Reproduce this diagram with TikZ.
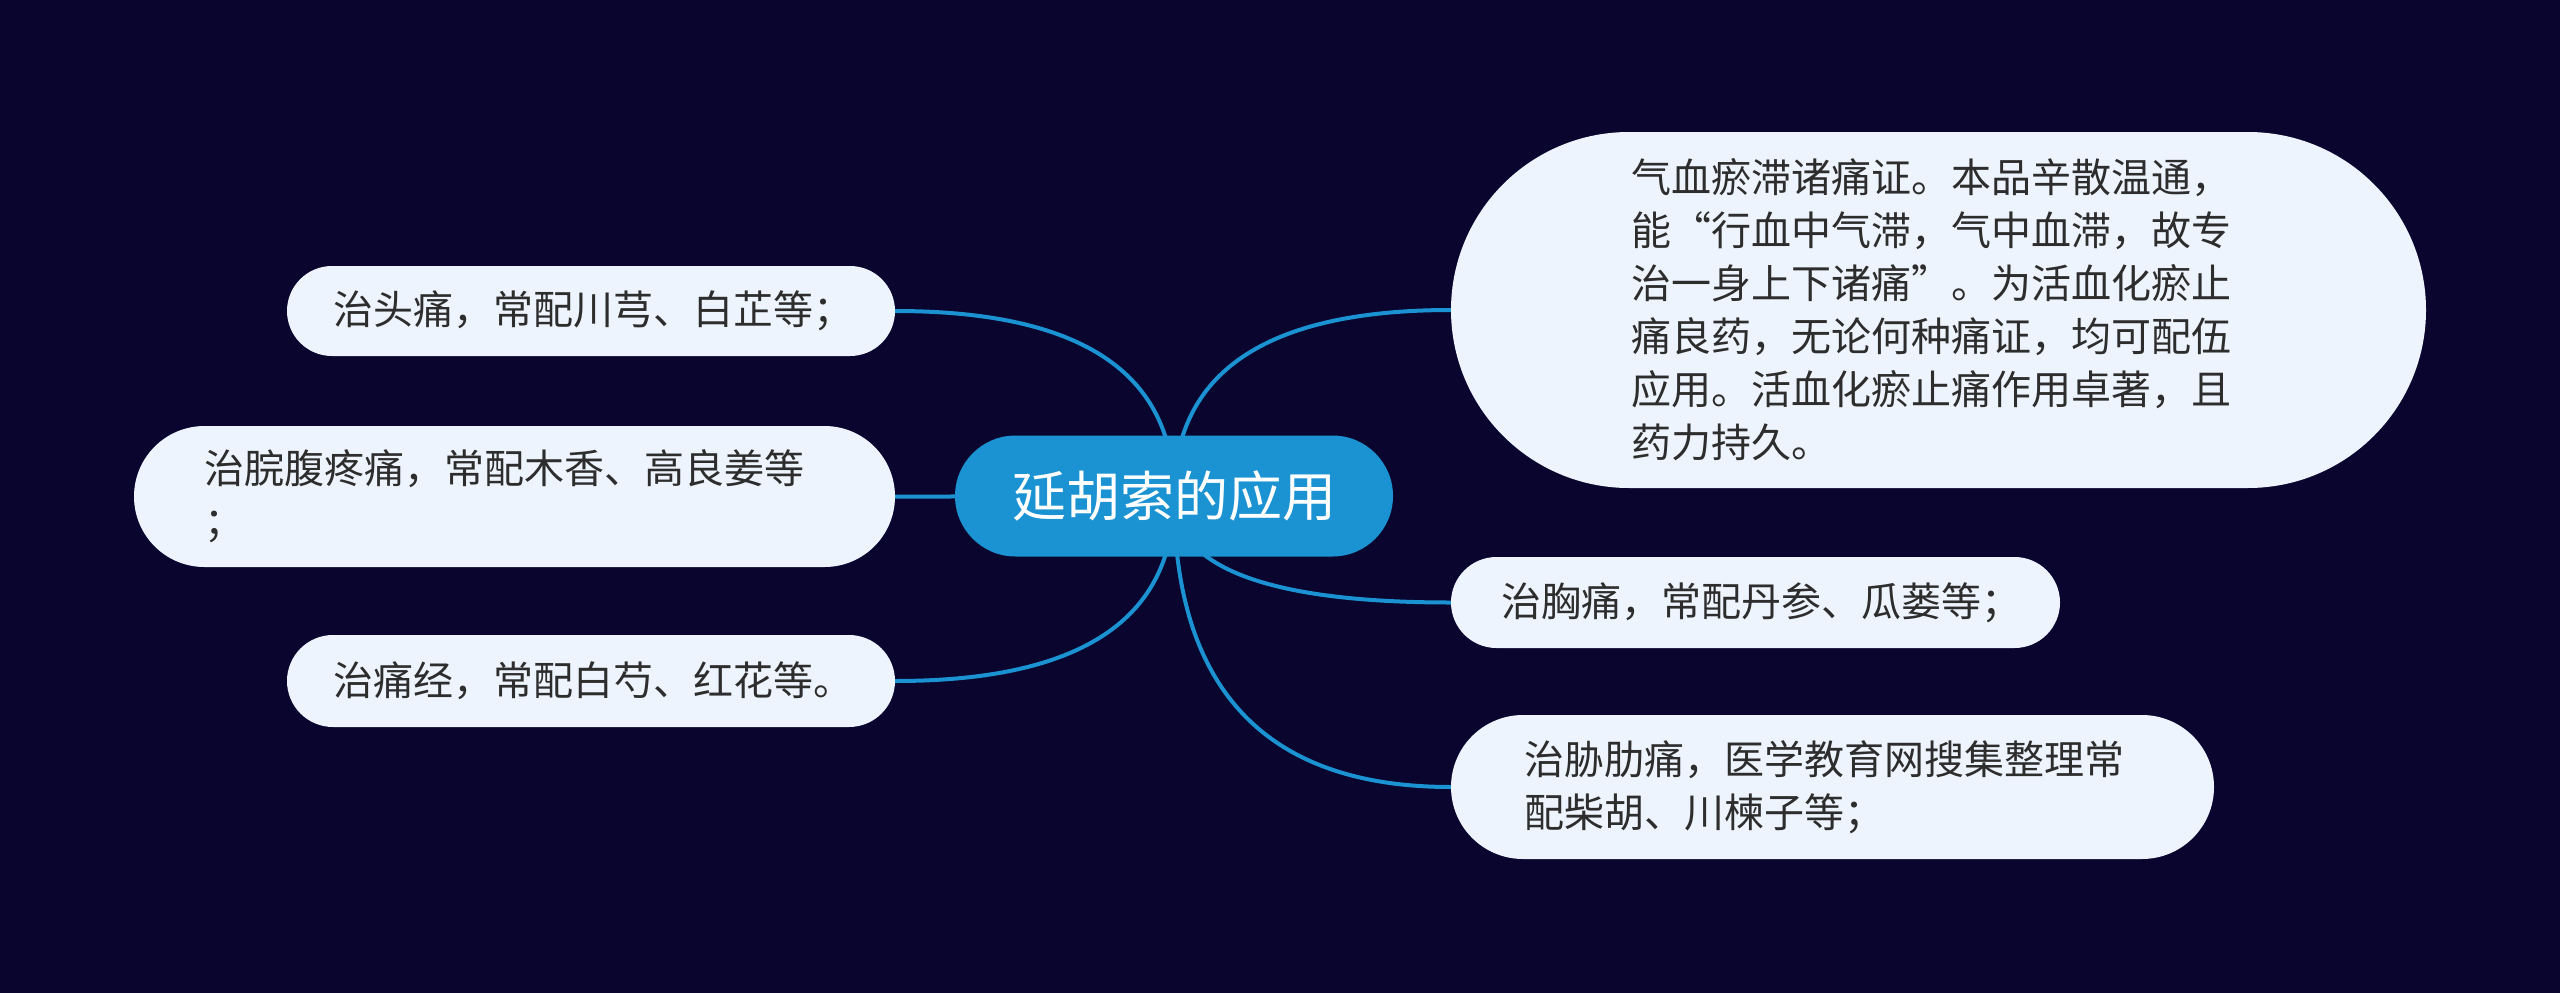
\documentclass[tikz,border=0pt]{standalone}
\usepackage{fontspec}
\setmainfont{Noto Sans CJK SC}
\usepackage{xcolor}
\usepackage{tikz}
\usetikzlibrary{calc,backgrounds}
\definecolor{BgNavy}{RGB}{9,5,46}
\definecolor{RootBlue}{RGB}{27,147,210}
\definecolor{LeafFill}{RGB}{238,244,254}
\definecolor{LeafText}{RGB}{45,45,45}

\begin{document}
\begin{tikzpicture}[x=1pt,y=-1pt,
  root/.style={fill=RootBlue,text=white,minimum width=438pt,minimum height=121pt,rounded corners=60.5pt,inner sep=0pt,font=\fontsize{54}{62}\selectfont},
  leaf/.style={fill=LeafFill,text=LeafText,align=left,inner ysep=0pt,font=\fontsize{40}{53}\selectfont},
  link/.style={RootBlue,line width=4pt}]
\useasboundingbox(0,0)rectangle(2560,993);
\node[root](root)at(1174,496){延胡索的应用};
\foreach \n/\x/\y/\w/\h/\p/\t in {
  tl/591/311/608/90/46/{治头痛，常配川芎、白芷等；},
  ml/514.5/496.5/761/141/70/{治脘腹疼痛，常配木香、高良姜等\\；},
  bl/591/681/608/92/46/{治痛经，常配白芍、红花等。},
  tr/1938.5/310/975/356/180/{气血瘀滞诸痛证。本品辛散温通，\\能“行血中气滞，气中血滞，故专\\治一身上下诸痛”。为活血化瘀止\\痛良药，无论何种痛证，均可配伍\\应用。活血化瘀止痛作用卓著，且\\药力持久。},
  cr/1755.5/602.5/609/91/50/{治胸痛，常配丹参、瓜蒌等；},
  br/1832.5/787/763/144/73/{治胁肋痛，医学教育网搜集整理常\\配柴胡、川楝子等；}
}{
  \pgfmathsetmacro{\tw}{\w-2*\p}
  \pgfmathsetmacro{\rc}{\h/2}
  \node[leaf,text width=\tw pt,inner xsep=\p pt,minimum height=\h pt,rounded corners=\rc pt](\n)at(\x,\y){\t};
}
\begin{scope}[on background layer]
\fill[BgNavy](0,0)rectangle(2560,993);
\foreach \n/\a in {tl/east,ml/east,bl/east,tr/west,cr/west,br/west}{
  \coordinate(k)at(root.center |- \n.\a);
  \draw[link](root.center)..controls($(root.center)!2/3!(k)$)and($(\n.\a)!2/3!(k)$)..(\n.\a);
}
\end{scope}
\end{tikzpicture}
\end{document}
